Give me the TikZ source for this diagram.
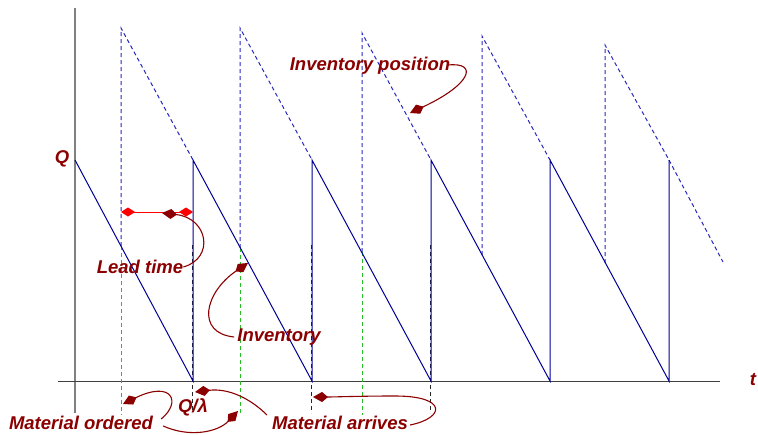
\documentclass[tikz,border=0pt]{standalone}
\usepackage{fontspec}
\setmainfont{Liberation Sans}
\usetikzlibrary{arrows.meta}
\definecolor{dred}{RGB}{139,0,0}
\definecolor{ablue}{RGB}{0,0,150}
\definecolor{dblue}{RGB}{40,40,190}
\definecolor{dgreen}{RGB}{40,190,40}
\begin{document}
\begin{tikzpicture}[x=1pt,y=-1pt,
  lbl/.style={text=dred,font=\fontsize{18.5}{20}\selectfont\bfseries\itshape,inner sep=0pt},
  saw/.style={ablue,line width=1pt,line join=miter},
  ipos/.style={dblue,line width=1pt,dash pattern=on 4pt off 3pt},
  ord/.style={dgreen,line width=1pt,dash pattern=on 4pt off 3pt},
  arv/.style={black!85,line width=1pt,dash pattern=on 4pt off 3pt},
  callout/.style={dred,line width=1.1pt,-{Kite[length=15pt,width=10pt,inset=6pt]}},
  ltime/.style={red,line width=1pt,{Kite[length=14pt,width=9pt,inset=7pt]}-{Kite[length=14pt,width=9pt,inset=7pt]}},
]
\useasboundingbox (0,0) rectangle (758,434);

% axes
\coordinate (yaxT) at (75,8);
\coordinate (yaxB) at (75,413);
\coordinate (xaxL) at (58,381);
\coordinate (xaxR) at (720,381);
\draw[gray,line width=1.3pt] (yaxB) -- (yaxT);
\draw[black!75,line width=1pt] (xaxL) -- (xaxR);

% arrival points (black dashed)
\foreach \x/\n in {193/1,312/2,431/3}{
  \coordinate (arT\n) at (\x-1,245);
  \coordinate (arB\n) at (\x-1,413);
  \draw[arv] (arT\n) -- (arB\n);
}

% order points: solid-line crossing, top of inventory position
\coordinate (o1) at (121,246);  \coordinate (t1) at (121,28);
\coordinate (o2) at (240,248);  \coordinate (t2) at (240,28);
\coordinate (o3) at (362,252);  \coordinate (t3) at (362,33);
\coordinate (o4) at (482,255);  \coordinate (t4) at (482,36);
\coordinate (o5) at (605,263);  \coordinate (t5) at (605,45);
\coordinate (g1) at (121,415);
\coordinate (g2) at (240,415);
\coordinate (g3) at (362,415);
\draw[ord] (o1) -- (g1);
\draw[ord] (o2) -- (g2);
\draw[ord] (o3) -- (g3);

% sawtooth points
\coordinate (p0) at (75,160);
\coordinate (b1) at (193,381); \coordinate (p1) at (193,160);
\coordinate (b2) at (312,381); \coordinate (p2) at (312,160);
\coordinate (b3) at (431,381); \coordinate (p3) at (431,160);
\coordinate (b4) at (550,381); \coordinate (p4) at (550,160);
\coordinate (b5) at (669,381); \coordinate (p5) at (669,160);
\coordinate (endd) at (723,262);

% inventory position (dashed)
\draw[ipos] (o1) -- (t1) -- (p1);
\draw[ipos] (o2) -- (t2) -- (p2);
\draw[ipos] (o3) -- (t3) -- (p3);
\draw[ipos] (o4) -- (t4) -- (p4);
\draw[ipos] (o5) -- (t5) -- (p5);
\draw[ipos] (p5) -- (endd);

% inventory (solid)
\draw[saw] (p0) -- (b1) -- (p1) -- (b2) -- (p2) -- (b3) -- (p3) -- (b4) -- (p4) -- (b5) -- (p5);

% lead time
\coordinate (ltL) at (121,212);
\coordinate (ltR) at (193,212);
\draw[ltime] (ltL) -- (ltR);

% labels
\node[lbl] (Q) at (62,159) {Q};
\node[lbl] (t) at (753,380) {t};
\node[lbl] (Ql) at (193,407) {Q/λ};
\node[lbl] (lead) at (140,267) {Lead time};
\node[lbl] (inv) at (279,337) {Inventory};
\node[lbl] (ipos) at (370,66) {Inventory position};
\node[lbl] (mord) at (81,423) {Material ordered};
\node[lbl] (marr) at (340,423) {Material arrives};

% callouts
\coordinate (ltA) at (162,213);
\draw[callout] (lead.east) .. controls (215,258) and (208,218) .. (ltA);
\coordinate (invA) at (248,263);
\draw[callout] (inv.west) ++(-3,0) .. controls (195,333) and (205,292) .. (invA);
\coordinate (iposA) at (410,113);
\draw[callout] (ipos.east) ++(-2,-1) .. controls (478,62) and (472,84) .. (iposA);
\coordinate (moA) at (123,404);
\draw[callout] (mord.east) ++(8,-4) .. controls (182,402) and (172,380) .. (moA);
\coordinate (moB) at (238,411);
\draw[callout] (mord.east) ++(10,3) .. controls (190,438) and (218,432) .. (moB);
\coordinate (maA) at (195,392);
\draw[callout] (marr.north west) ++(-5,-1) .. controls (250,398) and (228,388) .. (maA);
\coordinate (maB) at (313,397);
\coordinate (maM) at (395,396);
\draw[callout] (marr.east) ++(2,2) .. controls (445,418) and (448,396) .. (maM) .. controls (360,396) and (335,397) .. (maB);
\end{tikzpicture}
\end{document}
